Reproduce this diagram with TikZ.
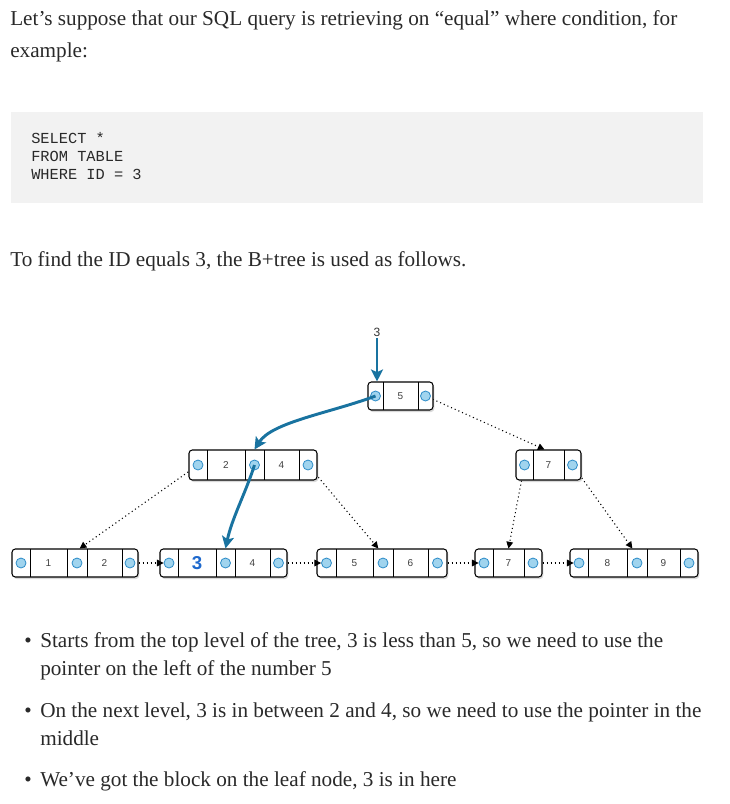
\documentclass[tikz,border=0pt]{standalone}
\usepackage{fontspec}
\setmainfont{Liberation Serif}
\newfontfamily\sansf{Liberation Sans}
\newfontfamily\monof{Liberation Mono}
\usetikzlibrary{arrows.meta,shadows,backgrounds}
\definecolor{txt}{RGB}{41,41,41}
\definecolor{codebg}{RGB}{242,242,242}
\definecolor{ptrfill}{RGB}{160,212,238}
\definecolor{ptrdraw}{RGB}{45,140,200}
\definecolor{blu}{RGB}{25,115,160}
\definecolor{keyblue}{RGB}{30,105,205}
\newcommand\frm[5]{\node[frame, minimum width={(#3-#2)*0.75pt}, minimum height={(#5-#4)*0.75pt}] (#1) at ({(#2+#3)/2},{(#4+#5)/2}) {};}
\newcommand\dv[3]{\draw[divline] (#1,#2) -- (#1,#3);}
\newcommand\pt[3]{\node[ptr] (#1) at (#2,#3) {};}
\newcommand\ky[4]{\node[keyt] (#1) at (#2,#3) {#4};}
\begin{document}
\begin{tikzpicture}[x=0.75pt,y=-0.75pt,
  body/.style={font=\fontsize{15.9}{18}\selectfont, text=txt, inner sep=0pt, anchor=base west},
  bul/.style={font=\fontsize{15.9}{18}\selectfont, text=txt, inner sep=0pt, anchor=base west},
  code/.style={font=\monof\fontsize{11.5}{13}\selectfont, text=txt, inner sep=0pt, anchor=base west},
  frame/.style={draw=black, line width=0.8pt, fill=white, rounded corners=2.5pt, inner sep=0pt,
    drop shadow={shadow xshift=1pt, shadow yshift=-1.5pt, opacity=0.3}},
  divline/.style={line width=0.7pt},
  ptr/.style={circle, draw=ptrdraw, fill=ptrfill, line width=0.6pt, minimum size=7.5pt, inner sep=0pt},
  keyt/.style={font=\sansf\fontsize{7.5}{9}\selectfont, text=black!75, inner sep=0pt},
  blue arrow/.style={draw=blu, line width=2.2pt, -{Stealth[length=9pt,width=9pt,inset=2pt]}},
  dot arrow/.style={line width=0.8pt, dash pattern=on 0.8pt off 2.2pt, -{Triangle[length=5pt,width=5pt]}}
]
\useasboundingbox (0,0) rectangle (730,804);

% text above
\node[body] (p1) at (10,25) {Let’s suppose that our SQL query is retrieving on “equal” where condition, for};
\node[body] (p2) at (10,57) {example:};
\fill[codebg] (11,112) rectangle (703,203);
\node[code] (c1) at (31,143) {SELECT *};
\node[code] (c2) at (31,161) {FROM TABLE};
\node[code] (c3) at (31,179) {WHERE ID = 3};
\node[body] (p3) at (10,266) {To find the ID equals 3, the B+tree is used as follows.};

% root
\frm{R}{368}{433}{382}{410}
\dv{383}{382}{410}\dv{418}{382}{410}
\pt{R1}{375.5}{396}\pt{R2}{425.5}{396}\ky{Rk}{400.5}{396}{5}

% level 2 left
\frm{L}{189}{317}{450}{480}
\dv{207}{450}{480}\dv{245}{450}{480}\dv{264}{450}{480}\dv{299}{450}{480}
\pt{L1}{198}{465}\pt{L2}{254.5}{465}\pt{L3}{308}{465}
\ky{Lk1}{226}{465}{2}\ky{Lk2}{281.5}{465}{4}

% level 2 right
\frm{M}{516}{581}{450}{480}
\dv{533}{450}{480}\dv{564}{450}{480}
\pt{M1}{524.5}{465}\pt{M2}{572.5}{465}\ky{Mk}{548.5}{465}{7}

% leaves
\frm{A}{12}{138}{549}{577}
\dv{30}{549}{577}\dv{67}{549}{577}\dv{87}{549}{577}\dv{122}{549}{577}
\pt{A1}{21}{563}\pt{A2}{77}{563}\pt{A3}{130}{563}
\ky{Ak1}{48.5}{563}{1}\ky{Ak2}{104.5}{563}{2}

\frm{B}{160}{287}{549}{577}
\dv{178}{549}{577}\dv{216}{549}{577}\dv{235}{549}{577}\dv{270}{549}{577}
\pt{B1}{169}{563}\pt{B2}{225.5}{563}\pt{B3}{278.5}{563}
\node[font=\sansf\bfseries\fontsize{14}{16}\selectfont, text=keyblue, inner sep=0pt] (Bk1) at (197,563) {3};
\ky{Bk2}{252.5}{563}{4}

\frm{C}{317}{447}{549}{577}
\dv{336}{549}{577}\dv{373}{549}{577}\dv{393}{549}{577}\dv{428}{549}{577}
\pt{C1}{326.5}{563}\pt{C2}{383}{563}\pt{C3}{437.5}{563}
\ky{Ck1}{354.5}{563}{5}\ky{Ck2}{410.5}{563}{6}

\frm{D}{475}{542}{549}{577}
\dv{493}{549}{577}\dv{524}{549}{577}
\pt{D1}{484}{563}\pt{D2}{533}{563}\ky{Dk}{508.5}{563}{7}

\frm{E}{570}{698}{549}{577}
\dv{588}{549}{577}\dv{627}{549}{577}\dv{647}{549}{577}\dv{680}{549}{577}
\pt{E1}{579}{563}\pt{E2}{637}{563}\pt{E3}{689}{563}
\ky{Ek1}{607.5}{563}{8}\ky{Ek2}{663.5}{563}{9}

% dotted tree pointers (behind blocks)
\begin{scope}[on background layer]
\draw[dot arrow] (R2.center) -- ([xshift=-3pt]M.north);
\draw[dot arrow] (L1.center) -- ([xshift=2pt]A2.center |- A.north);
\draw[dot arrow] (L3.center) -- ([xshift=-3.5pt]C2.center |- C.north);
\draw[dot arrow] (M1.center) -- (D.north);
\draw[dot arrow] (M2.center) -- ([xshift=-3.5pt]E2.center |- E.north);
\end{scope}

% leaf links
\draw[dot arrow] (A.east) -- (B1.west);
\draw[dot arrow] (B.east) -- (C1.west);
\draw[dot arrow] (C.east) -- (D1.west);
\draw[dot arrow] (D.east) -- (E1.west);

% search path
\node[font=\sansf\fontsize{9}{11}\selectfont, text=black!80, inner sep=1pt] (q) at (377,332) {3};
\draw[blue arrow] (q.south) -- (q.south |- R.north);
\draw[blue arrow] (R1.center) .. controls (330,413) and (272,422) .. (L2.center |- L.north);
\draw[blue arrow] (L2.center) .. controls (246,492) and (232,518) .. (B2.center |- B.north);

% bullets
\node[bul, anchor=base] (b1) at (28,647) {•};
\node[bul] (t1) at (40,647) {Starts from the top level of the tree, 3 is less than 5, so we need to use the};
\node[bul] (t2) at (40,675) {pointer on the left of the number 5};
\node[bul, anchor=base] (b2) at (28,717) {•};
\node[bul] (t3) at (40,717) {On the next level, 3 is in between 2 and 4, so we need to use the pointer in the};
\node[bul] (t4) at (40,745) {middle};
\node[bul, anchor=base] (b3) at (28,786) {•};
\node[bul] (t5) at (40,786) {We’ve got the block on the leaf node, 3 is in here};
\end{tikzpicture}
\end{document}
